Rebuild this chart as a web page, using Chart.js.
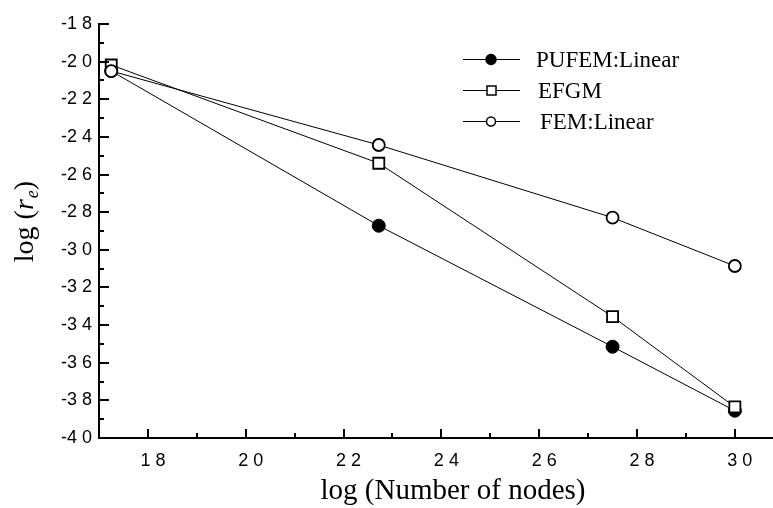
<!DOCTYPE html>
<html>
<head>
<meta charset="utf-8">
<script src="https://cdn.jsdelivr.net/npm/chart.js@4/dist/chart.umd.min.js"></script>
<style>
  html, body { margin: 0; padding: 0; background: #fff; }
  #chart { display: block; }
</style>
</head>
<body>
<canvas id="chart" width="773" height="508"></canvas>
<script>
// data
const xValues = [1.725, 2.272, 2.75, 3.0];
const pufemLinear = [-2.05, -2.872, -3.515, -3.855];
const efgm = [-2.018, -2.540, -3.355, -3.835];
const femLinear = [-2.05, -2.443, -2.829, -3.086];

const xTickValues = [1.8, 2.0, 2.2, 2.4, 2.6, 2.8, 3.0];
const xTickLabels = ['1 8', '2 0', '2 2', '2 4', '2 6', '2 8', '3 0'];
const xMinorTicks = [1.9, 2.1, 2.3, 2.5, 2.7, 2.9];
const yTickValues = [-4.0, -3.8, -3.6, -3.4, -3.2, -3.0, -2.8, -2.6, -2.4, -2.2, -2.0, -1.8];
const yTickLabels = ['-4 0', '-3 8', '-3 6', '-3 4', '-3 2', '-3 0', '-2 8', '-2 6', '-2 4', '-2 2', '-2 0', '-1 8'];
const yMinorTicks = [-3.9, -3.7, -3.5, -3.3, -3.1, -2.9, -2.7, -2.5, -2.3, -2.1, -1.9];

const seriesNames = ['PUFEM:Linear', 'EFGM', 'FEM:Linear'];

const serif = "'Liberation Serif', 'Times New Roman', serif";
const sans = "'Liberation Sans', Arial, sans-serif";

function pts(ys){ return xValues.map((x, i) => ({ x: x, y: ys[i] })); }

// inward tick marks, like the original plot
const tickMarks = {
  id: 'tickMarks',
  afterDatasetsDraw(chart){
    const { ctx, chartArea, scales } = chart;
    ctx.save();
    ctx.strokeStyle = '#000';
    ctx.lineWidth = 2;
    ctx.beginPath();
    for (const v of xTickValues){
      const px = Math.round(scales.x.getPixelForValue(v));
      ctx.moveTo(px, chartArea.bottom); ctx.lineTo(px, chartArea.bottom - 9);
    }
    for (const v of xMinorTicks){
      const px = Math.round(scales.x.getPixelForValue(v));
      ctx.moveTo(px, chartArea.bottom); ctx.lineTo(px, chartArea.bottom - 5);
    }
    for (const v of yTickValues){
      const py = Math.round(scales.y.getPixelForValue(v));
      ctx.moveTo(chartArea.left, py); ctx.lineTo(chartArea.left + 10, py);
    }
    for (const v of yMinorTicks){
      const py = Math.round(scales.y.getPixelForValue(v));
      ctx.moveTo(chartArea.left, py); ctx.lineTo(chartArea.left + 5, py);
    }
    ctx.stroke();
    ctx.restore();
  }
};

// axis titles (y one has italic r with subscript e)
const axisTitles = {
  id: 'axisTitles',
  afterDraw(chart){
    const ctx = chart.ctx;
    ctx.save();
    ctx.fillStyle = '#000';
    ctx.textBaseline = 'alphabetic';
    ctx.font = '29px ' + serif;
    ctx.textAlign = 'center';
    ctx.fillText('log (Number of nodes)', 453, 499);

    ctx.translate(33, 222);
    ctx.rotate(-Math.PI / 2);
    const parts = [
      { t: 'log (', f: '28px ' + serif, dy: 0 },
      { t: 'r', f: 'italic 28px ' + serif, dy: 0 },
      { t: 'e', f: 'italic 18px ' + serif, dy: 5 },
      { t: ')', f: '28px ' + serif, dy: 0 }
    ];
    let total = 0;
    for (const p of parts){ ctx.font = p.f; total += ctx.measureText(p.t).width; }
    let x = -total / 2;
    ctx.textAlign = 'left';
    for (const p of parts){
      ctx.font = p.f;
      ctx.fillText(p.t, x, p.dy);
      x += ctx.measureText(p.t).width + (p.t === 'r' ? 1 : 0);
    }
    ctx.restore();
  }
};

// legend: short line with the marker in its middle, then the name
const lineLegend = {
  id: 'lineLegend',
  afterDraw(chart){
    const ctx = chart.ctx;
    const rows = [59, 90, 121];
    const textX = [536, 538, 540];
    ctx.save();
    chart.data.datasets.forEach((ds, i) => {
      const y = rows[i];
      ctx.strokeStyle = '#000';
      ctx.lineWidth = 1;
      ctx.beginPath();
      ctx.moveTo(463, y + 0.5); ctx.lineTo(520, y + 0.5);
      ctx.stroke();
      ctx.lineWidth = 1.5;
      ctx.fillStyle = ds.pointBackgroundColor;
      ctx.beginPath();
      if (ds.pointStyle === 'rect'){
        ctx.rect(487, y - 4, 9, 9);
      } else {
        ctx.arc(491, y + 0.5, ds.pointBackgroundColor === '#000' ? 5 : 4.5, 0, Math.PI * 2);
      }
      ctx.fill();
      ctx.stroke();
      ctx.fillStyle = '#000';
      ctx.font = '23px ' + serif;
      ctx.textAlign = 'left';
      ctx.textBaseline = 'alphabetic';
      ctx.fillText(ds.label, textX[i], y + 8);
    });
    ctx.restore();
  }
};

new Chart(document.getElementById('chart'), {
  type: 'line',
  data: {
    datasets: [
      { label: seriesNames[0], data: pts(pufemLinear), order: 3,
        borderColor: '#000', borderWidth: 1, pointStyle: 'circle', pointRadius: 6.5,
        pointBackgroundColor: '#000', pointBorderColor: '#000', pointBorderWidth: 1 },
      { label: seriesNames[1], data: pts(efgm), order: 2,
        borderColor: '#000', borderWidth: 1, pointStyle: 'rect', pointRadius: 7.8,
        pointBackgroundColor: '#fff', pointBorderColor: '#000', pointBorderWidth: 1.8 },
      { label: seriesNames[2], data: pts(femLinear), order: 1,
        borderColor: '#000', borderWidth: 1, pointStyle: 'circle', pointRadius: 6,
        pointBackgroundColor: '#fff', pointBorderColor: '#000', pointBorderWidth: 1.8 }
    ]
  },
  options: {
    responsive: false,
    animation: false,
    layout: { autoPadding: false, padding: { top: 24, right: 0, left: 0, bottom: 0 } },
    plugins: { legend: { display: false }, tooltip: { enabled: false } },
    elements: { line: { tension: 0 } },
    scales: {
      x: {
        type: 'linear', min: 1.70, max: 3.078,
        grid: { display: false, drawTicks: false },
        border: { display: true, color: '#000', width: 2 },
        afterBuildTicks: (s) => { s.ticks = xTickValues.map(v => ({ value: v })); },
        afterFit: (s) => { s.height = 70; s.paddingLeft = 0; s.paddingRight = 0; },
        ticks: {
          autoSkip: false, maxRotation: 0, padding: 12, labelOffset: 5, color: '#000',
          font: { family: sans, size: 18 },
          callback: (v, i) => xTickLabels[i]
        }
      },
      y: {
        type: 'linear', min: -4.0, max: -1.8,
        grid: { display: false, drawTicks: false },
        border: { display: true, color: '#000', width: 2 },
        afterBuildTicks: (s) => { s.ticks = yTickValues.map(v => ({ value: v })); },
        afterFit: (s) => { s.width = 99; s.paddingTop = 0; s.paddingBottom = 0; },
        ticks: {
          autoSkip: false, padding: 7, color: '#000',
          font: { family: sans, size: 18 },
          callback: (v, i) => yTickLabels[i]
        }
      }
    }
  },
  plugins: [tickMarks, axisTitles, lineLegend]
});
</script>
</body>
</html>
